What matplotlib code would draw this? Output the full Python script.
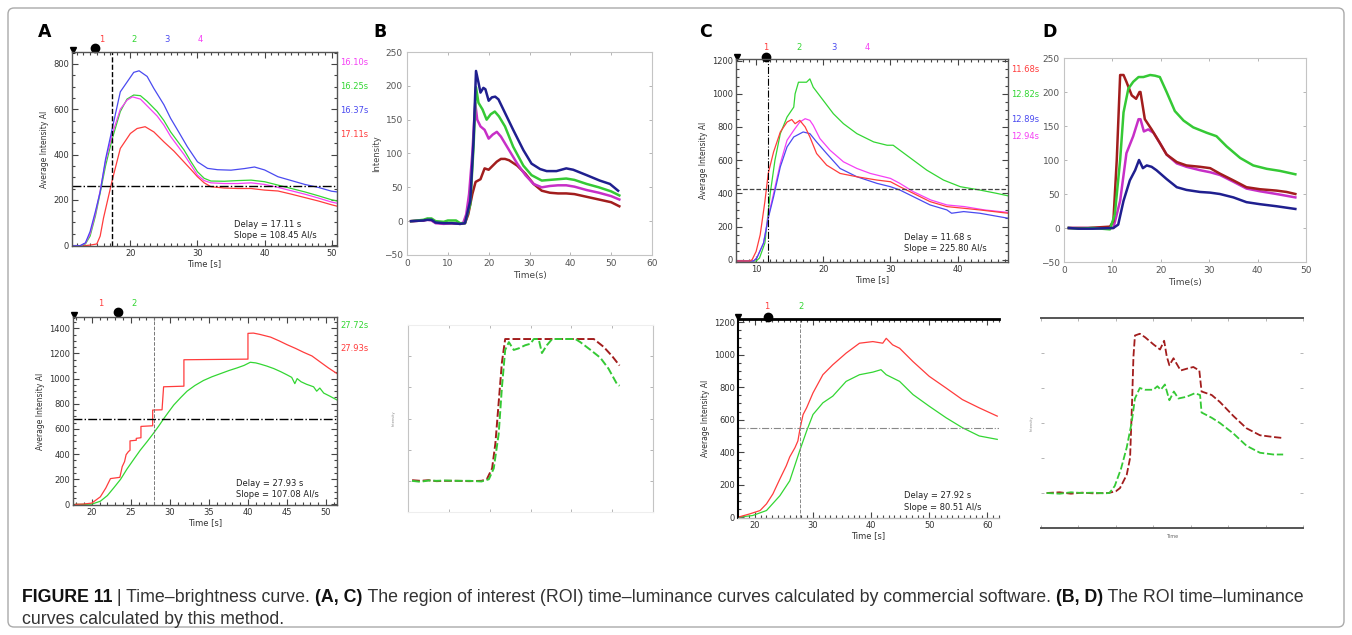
import numpy as np
import matplotlib.pyplot as plt
from matplotlib.ticker import MultipleLocator, NullFormatter
from matplotlib.patches import FancyBboxPatch

W, H = 1352, 635
plt.rc('font', family='DejaVu Sans')

# commercial software colours (A, C) and method colours (B, D)
sw_red, sw_green, sw_blue, sw_mag = '#ff3c3c', '#33d633', '#4a4af0', '#f540f5'
my_navy, my_green, my_mag, my_red = '#1f1f8f', '#35c935', '#c72fc7', '#a21d1d'

# ---------------- A top: 4 ROIs, commercial software
a_red_t = [11.3, 13, 14, 15, 15.5, 16, 16.7, 17.3, 18.5, 20, 21, 22.2, 23.5, 25, 26.5, 27.5, 29, 30, 31, 32, 34, 36, 38, 40, 42, 44, 46, 48, 50, 50.8]
a_red_v = [-3, -3, 0, 5, 40, 120, 210, 287, 427, 493, 515, 523, 500, 456, 415, 383, 335, 302, 275, 258, 252, 250, 250, 243, 239, 225, 210, 195, 178, 172]
a_green_t = [11.3, 12.5, 13.3, 14, 14.8, 15.5, 16.3, 17.3, 18.5, 19.5, 20.5, 21.5, 22.5, 24, 25, 26, 27, 28, 29, 30, 31, 32, 34, 36, 38, 40, 42, 44, 46, 48, 50, 50.8]
a_green_v = [-3, -3, 5, 40, 130, 230, 350, 470, 590, 645, 663, 660, 635, 590, 550, 500, 460, 420, 370, 324, 295, 283, 282, 285, 287, 280, 265, 250, 235, 218, 200, 195]
a_blue_t = [11.3, 12.5, 13.3, 14, 14.8, 15.5, 16.3, 17.3, 18.5, 19.5, 20.5, 21.3, 22.5, 23.5, 25, 26, 27.3, 28.5, 30, 31.5, 33, 35, 37, 38.5, 40, 42, 44, 46, 48, 50, 50.8]
a_blue_v = [-3, -3, 10, 60, 150, 235, 380, 515, 677, 720, 763, 770, 745, 692, 620, 560, 495, 434, 368, 339, 333, 331, 338, 345, 332, 302, 285, 268, 255, 238, 235]
a_mag_t = [11.3, 12.5, 13.3, 14, 14.8, 15.5, 16.3, 17.3, 18.5, 19.5, 20.3, 21.5, 22.5, 24, 25, 26, 27, 28, 29, 30, 31, 32, 34, 36, 38, 40, 42, 44, 46, 48, 50, 50.8]
a_mag_v = [-3, -3, 8, 50, 140, 240, 370, 490, 600, 640, 655, 645, 615, 570, 530, 480, 440, 400, 355, 309, 285, 275, 272, 272, 275, 268, 255, 240, 225, 208, 190, 185]
a_delay, a_level = 17.3, 262
a_times = ['16.10s', '16.25s', '16.37s', '17.11s']

# ---------------- A bottom: 2 ROIs, commercial software
ab_red_t = [17.9, 19, 20, 21.1, 21.8, 22.4, 23.6, 23.9, 24.2, 24.4, 24.7, 24.9, 24.9, 25.7, 25.7, 26.3, 26.3, 27.8, 27.8, 29.0, 29.1, 29.2, 31.8, 31.8, 40.0, 40.0, 40.7, 41.5, 42.9, 44.0, 45.0, 46.1, 47.1, 48.2, 49.3, 50.3, 51.4]
ab_red_v = [0, 3, 10, 60, 130, 205, 215, 300, 340, 395, 420, 430, 505, 510, 525, 530, 620, 625, 750, 752, 845, 935, 940, 1150, 1155, 1360, 1362, 1352, 1330, 1300, 1270, 1240, 1210, 1180, 1130, 1085, 1040]
ab_green_t = [17.9, 19, 20, 21.1, 22, 22.8, 23.7, 24.5, 25.4, 26.2, 27.1, 27.9, 28.6, 29.2, 29.9, 30.5, 31.4, 32.2, 33.2, 34.3, 35.4, 36.5, 37.6, 38.6, 39.5, 40.3, 41.0, 41.6, 42.4, 43.3, 44.2, 45.0, 45.6, 46.0, 46.3, 46.8, 47.5, 48.4, 48.8, 49.2, 49.7, 50.5, 51.4]
ab_green_v = [0, 0, 2, 25, 70, 130, 200, 280, 360, 430, 500, 565, 625, 680, 740, 790, 850, 900, 945, 985, 1015, 1040, 1065, 1085, 1105, 1130, 1125, 1115, 1100, 1080, 1055, 1030, 1010, 960, 1000, 975, 955, 935, 900, 925, 885, 860, 830]
ab_delay, ab_level = 28.0, 676
ab_times = ['27.72s', '27.93s']

# ---------------- B top: 4 ROIs, this method
b_navy_t = [1, 4, 5, 6, 7, 9, 11, 13, 14.2, 15.5, 16.3, 16.9, 17.5, 18, 18.7, 19.2, 20, 20.8, 21.6, 22.4, 23.6, 26, 28.5, 30.5, 32.6, 34.2, 36.6, 39, 40.7, 44, 47.2, 49.7, 51.7]
b_navy_v = [0, 1, 2, 2, -2, -3, -3, -4, -3, 30, 120, 222, 205, 190, 197, 195, 178, 183, 184, 180, 165, 135, 105, 85, 77, 74, 74, 78, 76, 68, 60, 55, 45]
b_green_t = [1, 4, 5, 6, 7, 9, 10, 12, 13, 14.2, 15.5, 16.3, 16.9, 17.5, 18.5, 19.5, 20.5, 21.5, 22.5, 24, 26, 28.5, 30.5, 33, 35, 37, 39, 41, 44, 47, 50, 52]
b_green_v = [0, 2, 4, 4, 0, -1, 1, 1, -3, -3, 25, 110, 198, 175, 165, 150, 158, 162, 155, 140, 110, 82, 68, 60, 61, 62, 63, 61, 55, 50, 44, 38]
b_mag_t = [1, 4, 5, 6, 7, 9, 11, 13, 13.8, 14.5, 15.2, 16, 16.7, 17.2, 18, 19, 20, 21, 22, 23, 25, 27, 29, 31, 33, 35, 37, 39, 41, 44, 47, 50, 52]
b_mag_v = [0, 1, 2, 1, -3, -4, -3, -4, -2, 10, 40, 100, 175, 150, 140, 135, 122, 128, 132, 125, 105, 85, 68, 55, 50, 52, 53, 53, 51, 46, 42, 37, 32]
b_red_t = [1, 4, 5, 6, 7, 9, 11, 13, 14.2, 15, 16, 16.8, 18, 19, 20, 21, 22, 23, 24, 25, 27, 29, 31, 33, 35, 37, 39, 41, 44, 47, 50, 52]
b_red_v = [0, 1, 3, 2, -2, -3, -3, -4, -3, 10, 40, 58, 62, 78, 76, 82, 88, 92, 92, 90, 82, 70, 55, 45, 42, 41, 41, 40, 36, 32, 28, 22]

# ---------------- B bottom: 2 ROIs, this method
bb_red_t = [1, 3, 5, 7, 9, 12, 15, 18, 19.3, 20.6, 21.4, 22.2, 23, 23.8, 30, 40, 45.5, 47.9, 50, 51.8]
bb_red_v = [0.02, 0, 0.02, -0.01, 0, 0, -0.01, 0, 0.05, 0.4, 1.2, 2.5, 3.8, 4.55, 4.55, 4.55, 4.55, 4.3, 4.0, 3.7]
bb_green_t = [1, 3, 5, 7, 9, 12, 15, 18, 19.8, 21, 22.2, 23, 23.8, 24.7, 25.9, 27.1, 28.7, 30, 30.8, 32, 32.8, 34, 35.3, 41, 42.2, 44.7, 47.1, 49.1, 51.2, 51.8]
bb_green_v = [0, -0.03, 0.01, 0, 0.01, 0, 0, -0.02, 0.05, 0.4, 1.5, 3, 4.2, 4.45, 4.2, 4.25, 4.35, 4.4, 4.55, 4.55, 4.1, 4.35, 4.55, 4.55, 4.45, 4.2, 3.95, 3.6, 3.1, 3.05]

# ---------------- C top: 4 ROIs, commercial software
c_red_t = [7, 9, 9.4, 10, 10.6, 11.3, 11.8, 12.6, 13.6, 14.6, 15.3, 15.8, 16.5, 17.3, 18, 19, 20.5, 22.5, 25, 28, 30, 31.4, 33.4, 35.9, 38.4, 40.9, 43.3, 47.5]
c_red_v = [-8, -8, 0, 50, 150, 350, 520, 650, 770, 830, 845, 820, 840, 800, 740, 640, 570, 520, 500, 480, 470, 440, 400, 350, 320, 310, 300, 280]
c_green_t = [7, 10, 10.5, 11.3, 12.1, 12.8, 13.6, 14.6, 15.6, 15.8, 16.3, 17.5, 18, 18.5, 20, 21.5, 23, 25, 27.5, 29.5, 30.4, 31.4, 33.4, 35.4, 37.9, 40.4, 43.3, 45.8, 47.5]
c_green_v = [-8, -8, 10, 100, 400, 600, 760, 860, 920, 1000, 1070, 1070, 1090, 1040, 960, 880, 820, 760, 710, 690, 690, 660, 600, 540, 480, 440, 420, 400, 385]
c_blue_t = [7, 9.6, 10.1, 11.1, 11.8, 12.6, 13.6, 14.6, 15.6, 17, 18, 19, 20.5, 22.5, 25, 28, 30, 31.4, 33.4, 35.9, 38.4, 39.1, 40.9, 43.3, 47.5]
c_blue_v = [-8, -8, 10, 100, 250, 380, 560, 680, 740, 770, 760, 710, 640, 550, 500, 460, 440, 420, 380, 330, 300, 280, 290, 280, 250]
c_mag_t = [7, 9.6, 10.1, 11.1, 11.8, 12.6, 13.6, 14.6, 15.6, 16.5, 17.3, 18, 18.5, 19.5, 21, 23, 25, 27, 29, 30, 31.4, 33.4, 36, 38.4, 41, 44, 47.5]
c_mag_v = [-8, -8, 10, 100, 260, 400, 580, 720, 780, 830, 850, 840, 810, 730, 660, 590, 550, 520, 500, 490, 460, 410, 360, 330, 320, 300, 285]
c_delay, c_level = 11.7, 425
c_times = ['11.68s', '12.82s', '12.89s', '12.94s']

# ---------------- C bottom: 2 ROIs, commercial software
cb_red_t = [17.1, 19.1, 20.9, 22.0, 23.1, 24.3, 25.4, 26.0, 26.9, 27.4, 27.8, 28.3, 28.9, 30.0, 31.7, 33.4, 35.7, 38.0, 40.3, 42.0, 42.6, 43.7, 44.9, 47.2, 50.0, 52.9, 55.7, 58.6, 61.7]
cb_red_v = [0, 20, 41, 82, 143, 235, 316, 371, 428, 469, 551, 632, 673, 765, 877, 938, 1010, 1071, 1081, 1071, 1101, 1061, 1040, 958, 867, 795, 724, 673, 622]
cb_green_t = [17.1, 19.6, 22.0, 24.3, 26.0, 27.8, 28.9, 30.0, 31.7, 33.4, 35.7, 38.0, 40.3, 41.7, 42.6, 44.9, 47.2, 50.0, 52.9, 55.7, 58.6, 61.7]
cb_green_v = [0, 10, 41, 132, 224, 418, 530, 632, 704, 745, 836, 877, 893, 908, 877, 836, 755, 683, 612, 551, 500, 479]
cb_delay, cb_level = 27.8, 551

# ---------------- D top: 4 ROIs, this method
d_red_t = [1, 5, 9.5, 10.2, 10.9, 11.6, 12.3, 12.9, 14, 14.9, 15.6, 15.8, 16.7, 18.1, 19.8, 21.2, 23.3, 25.3, 28.1, 30.2, 32.2, 35, 37.7, 40.5, 43.9, 46, 47.8]
d_red_v = [0, 0, 2, 10, 100, 225, 225, 215, 195, 190, 200, 200, 160, 145, 125, 108, 97, 92, 90, 88, 80, 70, 60, 57, 55, 53, 50]
d_green_t = [1, 3, 6, 9.5, 10.5, 11.6, 12.3, 13.3, 14.3, 15.4, 16.4, 17.8, 18.8, 19.8, 21.2, 22.9, 24.7, 26.7, 29.5, 31.5, 33.6, 36.4, 39.1, 41.9, 44.6, 47.8]
d_green_v = [0, -1, 0, -2, 20, 100, 170, 205, 215, 222, 222, 225, 224, 222, 200, 172, 158, 148, 140, 135, 120, 103, 92, 87, 84, 79]
d_mag_t = [1, 5, 10.2, 11.6, 12.9, 14.3, 15.4, 15.8, 16.5, 17.4, 18.5, 19.8, 21.2, 23.3, 25.3, 28.1, 30.2, 32.2, 35, 37.7, 40.5, 43.9, 47.8]
d_mag_v = [0, 0, 0, 40, 110, 135, 160, 160, 142, 145, 140, 125, 108, 95, 90, 85, 82, 78, 68, 58, 54, 50, 45]
d_navy_t = [1, 3, 6, 10.2, 11.2, 12.3, 13.6, 14.7, 15.5, 16.3, 17.1, 18.1, 19.1, 21.2, 23.3, 25.3, 28.1, 30.2, 32.2, 35, 37.7, 40.5, 43.9, 47.8]
d_navy_v = [0, -1, -1, 0, 5, 40, 70, 85, 100, 88, 92, 90, 85, 72, 60, 56, 53, 52, 50, 45, 38, 35, 32, 28]

# ---------------- D bottom: 2 ROIs, this method
db_red_t = [1.5, 5, 8, 11, 14, 18, 20, 21.1, 22.9, 23.8, 24.3, 24.7, 25.1, 26.4, 27.8, 30, 31.8, 32.9, 33.6, 34.3, 35.4, 36.2, 37.3, 38.9, 40.7, 42.3, 42.9, 45.6, 47.8, 51.4, 54.9, 58.5, 62.1, 64.7]
db_red_v = [0, 0.02, -0.02, 0.01, -0.01, 0, 0.05, 0.14, 0.52, 1.0, 2.5, 3.9, 4.5, 4.55, 4.45, 4.25, 4.1, 4.35, 3.9, 3.65, 3.85, 3.7, 3.5, 3.55, 3.6, 3.5, 2.9, 2.8, 2.6, 2.2, 1.85, 1.65, 1.6, 1.57]
db_green_t = [1.5, 5, 8, 11, 14, 17, 18.3, 19.7, 21.4, 22.9, 24.2, 25.1, 26.4, 27.8, 30, 31.1, 32, 33.1, 34.3, 35.5, 36.7, 38.9, 41.1, 42.5, 42.9, 45.6, 47.8, 51.4, 54.9, 58.5, 62.1, 64.7]
db_green_v = [0, -0.02, 0.02, 0, 0.01, -0.01, 0, 0.2, 0.7, 1.3, 2.0, 2.7, 3.0, 2.95, 2.95, 3.05, 2.95, 3.1, 2.65, 2.9, 2.7, 2.75, 2.85, 2.8, 2.3, 2.15, 2.0, 1.7, 1.35, 1.15, 1.1, 1.1]

fig = plt.figure(figsize=(W / 100, H / 100), dpi=100)


def box(l, t, r, b):
    return fig.add_axes([l / W, 1 - b / H, (r - l) / W, (b - t) / H])


def software_style(ax, xmaj, xmin, ymaj, ymin):
    ax.xaxis.set_major_locator(MultipleLocator(xmaj))
    ax.xaxis.set_minor_locator(MultipleLocator(xmin))
    ax.yaxis.set_major_locator(MultipleLocator(ymaj))
    ax.yaxis.set_minor_locator(MultipleLocator(ymin))
    ax.tick_params(which='both', direction='in', top=True, right=True,
                   labelsize=6, labelcolor='#333', color='#444', width=0.8, pad=2)
    ax.tick_params(which='major', length=4)
    ax.tick_params(which='minor', length=2)
    for s in ax.spines.values():
        s.set_color('#555')
        s.set_linewidth(1)
    ax.set_ylabel('Average Intensity AI', fontsize=5.5, color='#333', labelpad=3)
    ax.set_xlabel('Time [s]', fontsize=6, color='#333', labelpad=1)


def matlab_style(ax):
    ax.set_xlim(0, 60)
    ax.xaxis.set_major_locator(MultipleLocator(10))
    ax.tick_params(direction='in', top=True, right=True, labelsize=6.5,
                   labelcolor='#555', color='#aaa', length=2.5, width=0.6, pad=3)
    for s in ax.spines.values():
        s.set_color('#c4c4c4')
        s.set_linewidth(0.8)


def top_marks(ax, labels, colors, xs, y, tri_x, dot_x, dot_y):
    for s, c, x in zip(labels, colors, xs):
        ax.text(x, y, s, transform=ax.transAxes, color=c, fontsize=6,
                ha='center', va='center')
    ax.plot([tri_x], [1.012], marker='v', ms=4, color='black',
            transform=ax.transAxes, clip_on=False)
    ax.plot([dot_x], [dot_y], marker='o', ms=6, color='black',
            transform=ax.transAxes, clip_on=False)


def right_times(ax, labels, colors, ys):
    for s, c, y in zip(labels, colors, ys):
        ax.text(1.012, y, s, transform=ax.transAxes, color=c, fontsize=6,
                ha='left', va='center')


def delay_text(ax, x, y, s1, s2):
    ax.text(x, y, s1, transform=ax.transAxes, fontsize=6, color='#222')
    ax.text(x, y - 0.058, s2, transform=ax.transAxes, fontsize=6, color='#222')


# ---- A top
ax = box(72, 52, 337, 246)
ax.plot(a_red_t, a_red_v, color=sw_red, lw=0.9)
ax.plot(a_green_t, a_green_v, color=sw_green, lw=0.9)
ax.plot(a_mag_t, a_mag_v, color=sw_mag, lw=0.9)
ax.plot(a_blue_t, a_blue_v, color=sw_blue, lw=0.9)
ax.axvline(a_delay, color='black', ls='--', lw=1)
ax.axhline(a_level, color='black', ls='-.', lw=1)
ax.set_xlim(11.3, 50.8)
ax.set_ylim(-4, 853)
software_style(ax, 10, 1, 200, 50)
top_marks(ax, ['1', '2', '3', '4'], [sw_red, sw_green, sw_blue, sw_mag],
          [0.113, 0.234, 0.358, 0.483], 1.067, 0.004, 0.087, 1.02)
right_times(ax, a_times, [sw_mag, sw_green, sw_blue, sw_red], [0.948, 0.82, 0.701, 0.577])
delay_text(ax, 0.61, 0.1, 'Delay = 17.11 s', 'Slope = 108.45 AI/s')

# ---- A bottom
ax = box(73, 317, 337, 505)
ax.plot(ab_green_t, ab_green_v, color=sw_green, lw=0.9)
ax.plot(ab_red_t, ab_red_v, color=sw_red, lw=0.9)
ax.axvline(ab_delay, color='#777', ls='--', lw=0.7)
ax.axhline(ab_level, color='black', ls='-.', lw=1)
ax.set_xlim(17.6, 51.4)
ax.set_ylim(-5, 1490)
software_style(ax, 5, 1, 200, 50)
top_marks(ax, ['1', '2'], [sw_red, sw_green], [0.106, 0.231], 1.074, 0.004, 0.17, 1.027)
right_times(ax, ab_times, [sw_green, sw_red], [0.957, 0.835])
delay_text(ax, 0.617, 0.1, 'Delay = 27.93 s', 'Slope = 107.08 AI/s')

# ---- B top
ax = box(407, 52, 652, 255)
ax.plot(b_red_t, b_red_v, color=my_red, lw=1.8)
ax.plot(b_mag_t, b_mag_v, color=my_mag, lw=1.8)
ax.plot(b_green_t, b_green_v, color=my_green, lw=1.8)
ax.plot(b_navy_t, b_navy_v, color=my_navy, lw=1.8)
ax.set_ylim(-50, 250)
ax.yaxis.set_major_locator(MultipleLocator(50))
matlab_style(ax)
ax.set_ylabel('Intensity', fontsize=6, color='#444', labelpad=2)
ax.set_xlabel('Time(s)', fontsize=6.5, color='#444', labelpad=2)

# ---- B bottom
ax = box(408, 325, 653, 512)
ax.plot(bb_red_t, bb_red_v, color=my_red, lw=1.4, ls=(0, (4, 1.5)))
ax.plot(bb_green_t, bb_green_v, color=my_green, lw=1.4, ls=(0, (4, 1.5)))
ax.set_ylim(-1, 5)
ax.yaxis.set_major_locator(MultipleLocator(1))
matlab_style(ax)
ax.xaxis.set_major_formatter(NullFormatter())
ax.yaxis.set_major_formatter(NullFormatter())
ax.spines['top'].set_color('#eeeeee')
ax.spines['bottom'].set_color('#eeeeee')
ax.set_ylabel('Intensity', fontsize=2.5, color='#888', labelpad=6)

# ---- C top
ax = box(736, 59, 1008, 262)
ax.plot(c_green_t, c_green_v, color=sw_green, lw=0.9)
ax.plot(c_mag_t, c_mag_v, color=sw_mag, lw=0.9)
ax.plot(c_blue_t, c_blue_v, color=sw_blue, lw=0.9)
ax.plot(c_red_t, c_red_v, color=sw_red, lw=0.9)
ax.axvline(c_delay, color='black', ls='-.', lw=0.8)
ax.axhline(c_level, color='#444', ls='--', lw=0.9)
ax.set_xlim(7, 47.5)
ax.set_ylim(-14, 1210)
software_style(ax, 10, 1, 200, 50)
top_marks(ax, ['1', '2', '3', '4'], [sw_red, sw_green, sw_blue, sw_mag],
          [0.11, 0.232, 0.36, 0.482], 1.059, 0.004, 0.11, 1.01)
right_times(ax, c_times, [sw_red, sw_green, sw_blue, sw_mag], [0.946, 0.823, 0.7, 0.616])
delay_text(ax, 0.618, 0.11, 'Delay = 11.68 s', 'Slope = 225.80 AI/s')

# ---- C bottom
ax = box(738, 319, 999, 518)
ax.plot(cb_green_t, cb_green_v, color=sw_green, lw=0.9)
ax.plot(cb_red_t, cb_red_v, color=sw_red, lw=0.9)
ax.axvline(cb_delay, color='#888', ls='--', lw=0.7)
ax.axhline(cb_level, color='#888', ls='-.', lw=0.8)
ax.set_xlim(17.1, 62)
ax.set_ylim(-5, 1220)
software_style(ax, 10, 1, 200, 50)
ax.spines['top'].set_color('black')
ax.spines['top'].set_linewidth(2)
ax.spines['left'].set_color('black')
ax.spines['left'].set_linewidth(1.5)
ax.spines['right'].set_visible(False)
ax.spines['bottom'].set_color('#bbbbbb')
ax.tick_params(which='both', right=False)
top_marks(ax, ['1', '2'], [sw_red, sw_green], [0.111, 0.241], 1.065, 0.0, 0.115, 1.01)
delay_text(ax, 0.636, 0.1, 'Delay = 27.92 s', 'Slope = 80.51 AI/s')

# ---- D top
ax = box(1064, 58, 1306, 262)
ax.plot(d_mag_t, d_mag_v, color=my_mag, lw=1.8)
ax.plot(d_red_t, d_red_v, color=my_red, lw=1.8)
ax.plot(d_green_t, d_green_v, color=my_green, lw=1.8)
ax.plot(d_navy_t, d_navy_v, color=my_navy, lw=1.8)
ax.set_ylim(-50, 250)
ax.yaxis.set_major_locator(MultipleLocator(50))
matlab_style(ax)
ax.set_xlim(0, 50)
ax.set_xlabel('Time(s)', fontsize=6.5, color='#444', labelpad=2)

# ---- D bottom
ax = box(1041, 318, 1303, 528)
ax.plot(db_red_t, db_red_v, color=my_red, lw=1.3, ls=(0, (4, 1.5)))
ax.plot(db_green_t, db_green_v, color=my_green, lw=1.3, ls=(0, (4, 1.5)))
ax.set_xlim(0, 70)
ax.set_ylim(-1, 5)
ax.xaxis.set_major_locator(MultipleLocator(10))
ax.yaxis.set_major_locator(MultipleLocator(1))
ax.xaxis.set_major_formatter(NullFormatter())
ax.yaxis.set_major_formatter(NullFormatter())
ax.tick_params(direction='in', top=True, right=True, color='#aaa', length=2, width=0.6)
ax.spines['left'].set_visible(False)
ax.spines['right'].set_visible(False)
ax.spines['top'].set_color('#555')
ax.spines['top'].set_linewidth(1.4)
ax.spines['bottom'].set_color('#555')
ax.spines['bottom'].set_linewidth(1.4)
ax.set_ylabel('Intensity', fontsize=2.5, color='#888', labelpad=2)
ax.set_xlabel('Time', fontsize=3.5, color='#666', labelpad=1)

# panel letters
for s, x in zip(['A', 'B', 'C', 'D'], [45, 380, 706, 1050]):
    fig.text(x / W, 1 - 32 / H, s, fontsize=12.5, weight='bold', ha='center', va='center')

# caption
cap_font = ['Liberation Sans Narrow', 'Liberation Sans', 'DejaVu Sans']
line1 = [('FIGURE 11', True), (' | Time\u2013brightness curve. ', False), ('(A, C)', True),
         (' The region of interest (ROI) time\u2013luminance curves calculated by commercial software. ', False),
         ('(B, D)', True), (' The ROI time\u2013luminance', False)]
line2 = [('curves calculated by this method.', False)]
renderer = fig.canvas.get_renderer()
for parts, y in [(line1, 598), (line2, 619)]:
    x = 22
    for s, bold in parts:
        t = fig.text(x / W, 1 - y / H, s, fontsize=12.8, family=cap_font,
                     weight='bold' if bold else 'normal', va='center',
                     color='#111' if bold else '#333')
        x = t.get_window_extent(renderer).x1

fig.patches.append(FancyBboxPatch((0.08, 0.08), 13.36, 6.19, boxstyle='round,pad=0,rounding_size=0.06',
                                  transform=fig.dpi_scale_trans, fill=False, edgecolor='#aaaaaa', lw=1))

fig.savefig('out.png', dpi=100)
